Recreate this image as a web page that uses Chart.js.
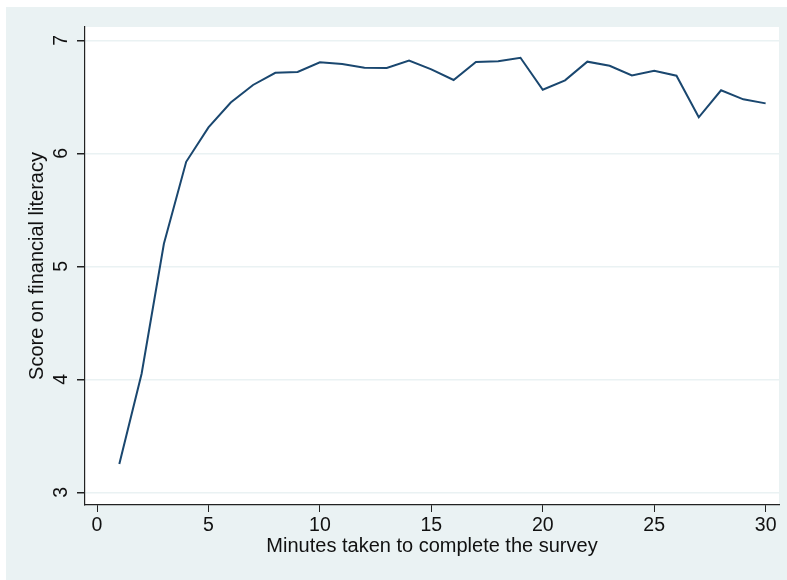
<!DOCTYPE html>
<html>
<head>
<meta charset="utf-8">
<script src="https://cdn.jsdelivr.net/npm/chart.js@4/dist/chart.umd.min.js"></script>
<style>
	html, body { margin: 0; padding: 0; background: #fff; }
	#wrap { position: relative; width: 787px; height: 580px; }
</style>
</head>
<body>
<div id="wrap"><canvas id="chart" width="787" height="580"></canvas></div>
<script>
const minutes = [1, 2, 3, 4, 5, 6, 7, 8, 9, 10, 11, 12, 13, 14, 15, 16, 17, 18, 19, 20, 21, 22, 23, 24, 25, 26, 27, 28, 29, 30];
const scores = [3.25, 4.05, 5.2, 5.925, 6.23, 6.45, 6.605, 6.713, 6.72, 6.805, 6.79, 6.757, 6.755, 6.82, 6.743, 6.649, 6.808, 6.814, 6.846, 6.563, 6.646, 6.811, 6.775, 6.69, 6.731, 6.687, 6.319, 6.558, 6.478, 6.442];
const xTitle = 'Minutes taken to complete the survey';
const yTitle = 'Score on financial literacy';

const BG = '#eaf2f3';
const FONT = '"Liberation Sans", Arial, Helvetica, sans-serif';
const TICK_SIZE = 19.5;
const TITLE_SIZE = 20;

// stata-like backgrounds: outer light panel, white plot region
const background = {
	id: 'background',
	beforeDraw: chart => {
		const { ctx, chartArea: a, width, height } = chart;
		ctx.save();
		ctx.fillStyle = '#fff';
		ctx.fillRect(0, 0, width, height);
		ctx.fillStyle = BG;
		ctx.fillRect(6, 7, width - 6, height - 7);
		ctx.fillStyle = '#fff';
		ctx.fillRect(a.left, a.top, a.right - a.left, a.bottom - a.top);
		ctx.restore();
	}
};

// y tick labels turned upright and centred on their tick
const yLabels = {
	id: 'yLabels',
	afterDraw: chart => {
		const scale = chart.scales.y;
		const { ctx } = chart;
		ctx.save();
		ctx.fillStyle = '#111';
		ctx.font = `${TICK_SIZE}px ${FONT}`;
		ctx.textAlign = 'center';
		ctx.textBaseline = 'alphabetic';
		scale.ticks.forEach(t => {
			const y = scale.getPixelForValue(t.value);
			ctx.save();
			ctx.translate(67, y);
			ctx.rotate(-Math.PI / 2);
			ctx.fillText(String(t.value), 0, 0);
			ctx.restore();
		});
		ctx.restore();
	}
};

const ctx = document.querySelector('#chart').getContext('2d');
new Chart(ctx, {
	type: 'line',
	data: {
		datasets: [{
			data: minutes.map((m, i) => ({ x: m, y: scores[i] })),
			borderColor: '#1a476f',
			borderWidth: 2,
			pointRadius: 0,
			tension: 0,
			fill: false,
		}]
	},
	options: {
		responsive: false,
		animation: false,
		devicePixelRatio: 1,
		layout: { padding: { left: 0, top: 27, right: 8, bottom: 0 } },
		plugins: { legend: { display: false }, tooltip: { enabled: false } },
		scales: {
			x: {
				type: 'linear',
				min: -0.54,
				max: 30.6,
				afterFit: scale => { scale.height = 75; },
				border: { color: '#222', width: 1.2 },
				grid: { drawOnChartArea: false, tickLength: 7, tickColor: '#222' },
				ticks: {
					stepSize: 5,
					includeBounds: false,
					padding: 2,
					color: '#111',
					font: { family: FONT, size: TICK_SIZE },
				},
				title: {
					display: true,
					text: xTitle,
					color: '#111',
					font: { family: FONT, size: TITLE_SIZE },
					padding: { top: 0, bottom: 21.5 },
				},
			},
			y: {
				min: 2.888,
				max: 7.118,
				afterFit: scale => { scale.width = 85; },
				border: { color: '#222', width: 1.2 },
				grid: { color: BG, lineWidth: 1.5, tickLength: 8, tickColor: '#222' },
				ticks: {
					stepSize: 1,
					includeBounds: false,
					display: false,
				},
				title: {
					display: true,
					text: yTitle,
					color: '#111',
					font: { family: FONT, size: TITLE_SIZE },
					padding: { top: 25.5, bottom: 0 },
				},
			},
		},
	},
	plugins: [background, yLabels],
});
</script>
</body>
</html>
